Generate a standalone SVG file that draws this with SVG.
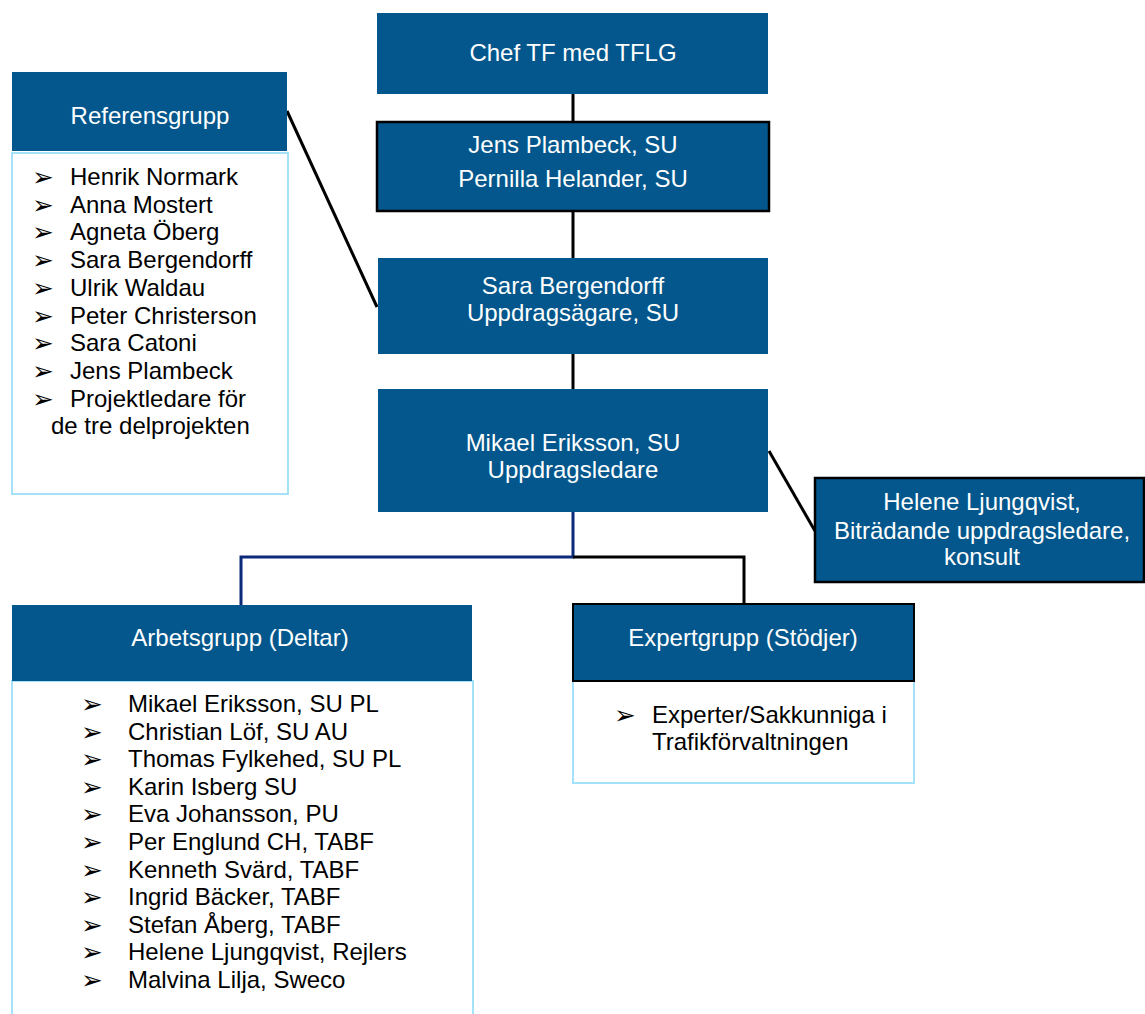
<svg xmlns="http://www.w3.org/2000/svg" width="1145" height="1014" viewBox="0 0 1145 1014">
<style>
.hdr{fill:#03578C}
.blk{stroke:#000;stroke-width:2.5}
.body{fill:#fff;stroke:#A3E2F8;stroke-width:2}
.wt{font-family:"Liberation Sans",Arial,sans-serif;font-size:24px;fill:#fff;text-anchor:middle}
.bt{font-family:"Liberation Sans",Arial,sans-serif;font-size:24px;fill:#000}
.bl{font-family:"DejaVu Sans",sans-serif;font-size:26px;fill:#000}
.ln{stroke:#000;stroke-width:3;fill:none}
.nv{stroke:#0D2A7A;stroke-width:3;fill:none}
</style>
<rect width="1145" height="1014" fill="#fff"/>
<g id="connectors">
<line class="ln" x1="573" y1="94" x2="573" y2="122"/>
<line class="ln" x1="573" y1="211" x2="573" y2="258"/>
<line class="ln" x1="573" y1="354" x2="573" y2="389"/>
<line class="ln" x1="287" y1="111" x2="377" y2="307"/>
<line class="ln" x1="769" y1="451" x2="815" y2="531"/>
<polyline class="nv" points="573,512 573,557 241,557 241,605"/>
<polyline class="ln" points="573,557 744,557 744,604"/>
</g>
<g id="chef">
<rect class="hdr" x="377" y="13" width="391" height="81"/>
<text class="wt" x="573" y="61">Chef TF med TFLG</text>
</g>
<g id="jens">
<rect class="hdr blk" x="377" y="122" width="392" height="89"/>
<text class="wt" x="573" y="153">Jens Plambeck, SU</text>
<text class="wt" x="573" y="187">Pernilla Helander, SU</text>
</g>
<g id="sara">
<rect class="hdr" x="378" y="258" width="390" height="96"/>
<text class="wt" x="573" y="294">Sara Bergendorff</text>
<text class="wt" x="573" y="321">Uppdragsägare, SU</text>
</g>
<g id="mikael">
<rect class="hdr" x="378" y="389" width="390" height="123"/>
<text class="wt" x="573" y="451">Mikael Eriksson, SU</text>
<text class="wt" x="573" y="478">Uppdragsledare</text>
</g>
<g id="helene">
<rect class="hdr blk" x="815" y="478" width="329" height="104"/>
<text class="wt" x="982" y="510">Helene Ljungqvist,</text>
<text class="wt" x="982" y="539">Biträdande uppdragsledare,</text>
<text class="wt" x="982" y="565">konsult</text>
</g>
<g id="referensgrupp">
<rect class="body" x="12" y="153" width="276" height="341"/>
<rect class="hdr" x="12" y="72" width="275" height="79"/>
<text class="wt" x="150" y="124">Referensgrupp</text>
<g class="bl">
<text x="32" y="186">➢</text><text x="32" y="213.7">➢</text><text x="32" y="241.4">➢</text><text x="32" y="269.1">➢</text><text x="32" y="296.8">➢</text><text x="32" y="324.5">➢</text><text x="32" y="352.2">➢</text><text x="32" y="379.9">➢</text><text x="32" y="407.6">➢</text>
</g>
<g class="bt">
<text x="70" y="185">Henrik Normark</text>
<text x="70" y="212.7">Anna Mostert</text>
<text x="70" y="240.4">Agneta Öberg</text>
<text x="70" y="268.1">Sara Bergendorff</text>
<text x="70" y="295.8">Ulrik Waldau</text>
<text x="70" y="323.5">Peter Christerson</text>
<text x="70" y="351.2">Sara Catoni</text>
<text x="70" y="378.9">Jens Plambeck</text>
<text x="70" y="406.6">Projektledare för</text>
<text x="51" y="434.3">de tre delprojekten</text>
</g>
</g>
<g id="arbetsgrupp">
<rect class="body" x="12" y="681" width="461" height="360"/>
<rect class="hdr" x="12" y="605" width="460" height="76"/>
<text class="wt" x="240" y="646">Arbetsgrupp (Deltar)</text>
<g class="bl">
<text x="81" y="713">➢</text><text x="81" y="740.6">➢</text><text x="81" y="768.2">➢</text><text x="81" y="795.8">➢</text><text x="81" y="823.4">➢</text><text x="81" y="851">➢</text><text x="81" y="878.6">➢</text><text x="81" y="906.2">➢</text><text x="81" y="933.8">➢</text><text x="81" y="961.4">➢</text><text x="81" y="989">➢</text>
</g>
<g class="bt">
<text x="128" y="712">Mikael Eriksson, SU PL</text>
<text x="128" y="739.6">Christian Löf, SU AU</text>
<text x="128" y="767.2">Thomas Fylkehed, SU PL</text>
<text x="128" y="794.8">Karin Isberg SU</text>
<text x="128" y="822.4">Eva Johansson, PU</text>
<text x="128" y="850">Per Englund CH, TABF</text>
<text x="128" y="877.6">Kenneth Svärd, TABF</text>
<text x="128" y="905.2">Ingrid Bäcker, TABF</text>
<text x="128" y="932.8">Stefan Åberg, TABF</text>
<text x="128" y="960.4">Helene Ljungqvist, Rejlers</text>
<text x="128" y="988">Malvina Lilja, Sweco</text>
</g>
</g>
<g id="expertgrupp">
<rect class="body" x="573" y="681" width="341" height="102"/>
<rect class="hdr" x="573" y="604" width="341" height="77" stroke="#000" stroke-width="2"/>
<text class="wt" x="743" y="646">Expertgrupp (Stödjer)</text>
<text class="bl" x="614" y="724">➢</text>
<text class="bt" x="652" y="723">Experter/Sakkunniga i</text>
<text class="bt" x="652" y="750">Trafikförvaltningen</text>
</g>
</svg>
